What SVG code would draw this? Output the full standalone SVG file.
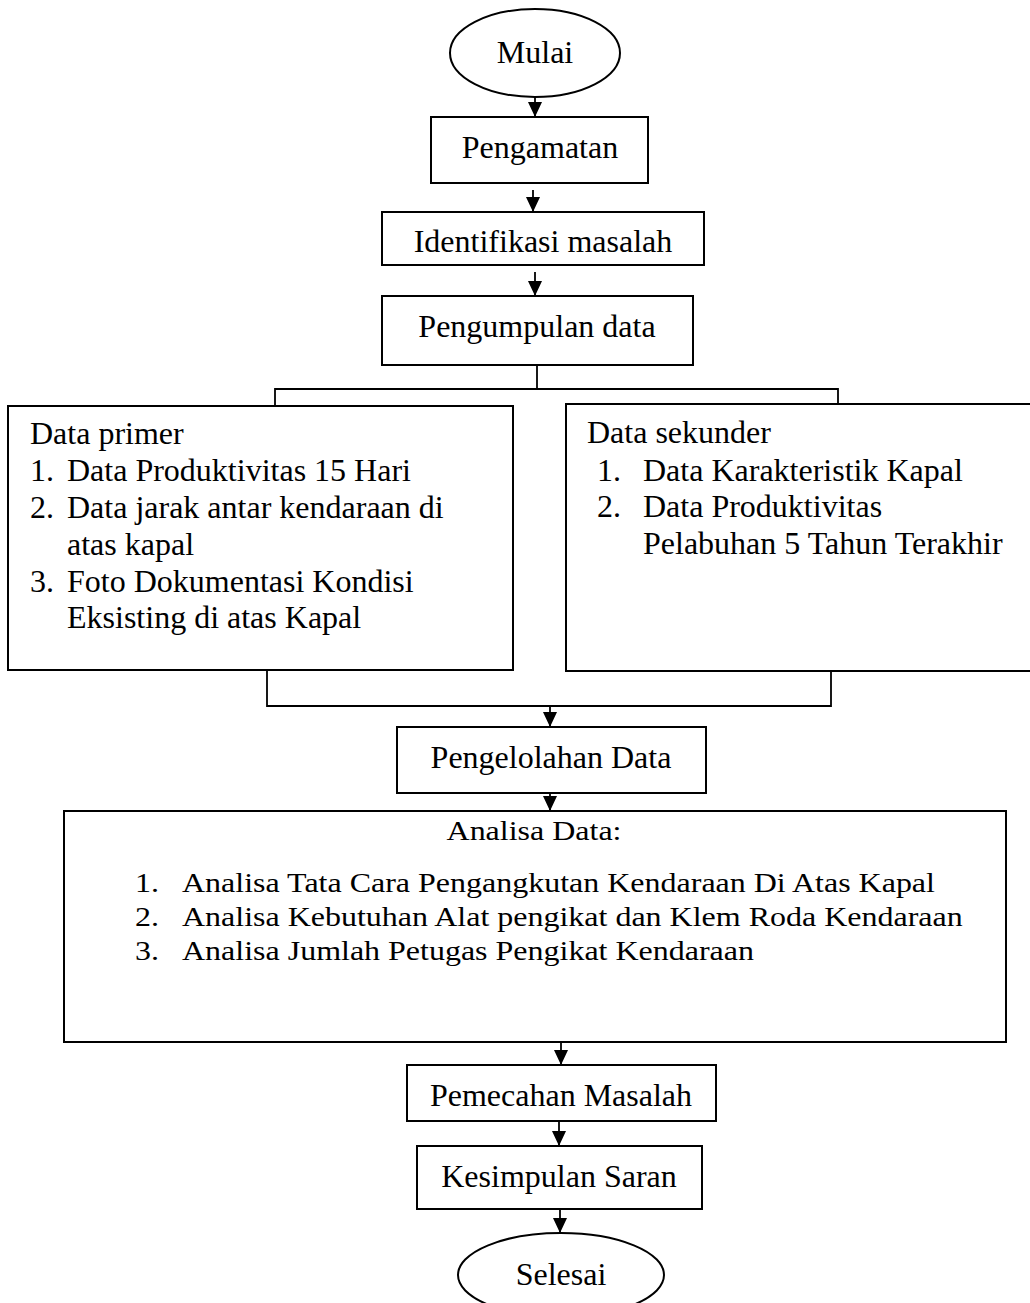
<svg xmlns="http://www.w3.org/2000/svg" width="1030" height="1303" viewBox="0 0 1030 1303">
<style>
.box{fill:#fff;stroke:#000;stroke-width:2}
.ln{fill:none;stroke:#000;stroke-width:1.8}
.arr{fill:none;stroke:#000;stroke-width:1.8;marker-end:url(#ah)}
text{font-family:"Liberation Serif","Times New Roman",serif;font-size:32px;fill:#000}
.c{text-anchor:middle}
</style>
<defs>
<marker id="ah" markerUnits="userSpaceOnUse" markerWidth="16" markerHeight="16" viewBox="0 0 16 16" refX="15" refY="8" orient="auto">
<path d="M0,1 L15,8 L0,15 Z" fill="#000"/>
</marker>
</defs>
<rect width="1030" height="1303" fill="#fff"/>
<g id="connectors">
<line class="arr" x1="535" y1="97" x2="535" y2="117"/>
<line class="arr" x1="533" y1="190" x2="533" y2="212"/>
<line class="arr" x1="535" y1="272" x2="535" y2="296"/>
<polyline class="ln" points="537,365 537,389"/>
<polyline class="ln" points="275,406 275,389 838,389 838,404"/>
<polyline class="ln" points="267,670 267,706 831,706 831,671"/>
<line class="arr" x1="550" y1="706" x2="550" y2="727"/>
<line class="arr" x1="550" y1="793" x2="550" y2="811"/>
<line class="arr" x1="561" y1="1042" x2="561" y2="1065"/>
<line class="arr" x1="559" y1="1121" x2="559" y2="1146"/>
<line class="arr" x1="560" y1="1209" x2="560" y2="1233"/>
</g>
<g id="mulai">
<ellipse class="box" cx="535" cy="53" rx="85" ry="44"/>
<text class="c" x="535" y="63">Mulai</text>
</g>
<g id="pengamatan">
<rect class="box" x="431" y="117" width="217" height="66"/>
<text class="c" x="540" y="158">Pengamatan</text>
</g>
<g id="identifikasi">
<rect class="box" x="382" y="212" width="322" height="53"/>
<text class="c" x="543" y="252">Identifikasi masalah</text>
</g>
<g id="pengumpulan">
<rect class="box" x="382" y="296" width="311" height="69"/>
<text class="c" x="537" y="337">Pengumpulan data</text>
</g>
<g id="data-primer">
<rect class="box" x="8" y="406" width="505" height="264"/>
<text x="30" y="444">Data primer</text>
<text x="30" y="481">1.</text><text x="67" y="481">Data Produktivitas 15 Hari</text>
<text x="30" y="518">2.</text><text x="67" y="518">Data jarak antar kendaraan di</text>
<text x="67" y="555">atas kapal</text>
<text x="30" y="592">3.</text><text x="67" y="592">Foto Dokumentasi Kondisi</text>
<text x="67" y="628">Eksisting di atas Kapal</text>
</g>
<g id="data-sekunder">
<rect class="box" x="566" y="404" width="480" height="267"/>
<text x="587" y="443">Data sekunder</text>
<text x="597" y="481">1.</text><text x="643" y="481">Data Karakteristik Kapal</text>
<text x="597" y="517">2.</text><text x="643" y="517">Data Produktivitas</text>
<text x="643" y="554">Pelabuhan 5 Tahun Terakhir</text>
</g>
<g id="pengelolahan">
<rect class="box" x="397" y="727" width="309" height="66"/>
<text class="c" x="551" y="768">Pengelolahan Data</text>
</g>
<g id="analisa">
<rect class="box" x="64" y="811" width="942" height="231"/>
<text class="c" transform="translate(534 840) scale(1 0.86)">Analisa Data:</text>
<text transform="translate(135 892) scale(1 0.86)">1.</text><text transform="translate(182 892) scale(1 0.86)">Analisa Tata Cara Pengangkutan Kendaraan Di Atas Kapal</text>
<text transform="translate(135 926) scale(1 0.86)">2.</text><text transform="translate(182 926) scale(1 0.86)">Analisa Kebutuhan Alat pengikat dan Klem Roda Kendaraan</text>
<text transform="translate(135 960) scale(1 0.86)">3.</text><text transform="translate(182 960) scale(1 0.86)">Analisa Jumlah Petugas Pengikat Kendaraan</text>
</g>
<g id="pemecahan">
<rect class="box" x="407" y="1065" width="309" height="56"/>
<text class="c" x="561" y="1106">Pemecahan Masalah</text>
</g>
<g id="kesimpulan">
<rect class="box" x="417" y="1146" width="285" height="63"/>
<text class="c" x="559" y="1187">Kesimpulan Saran</text>
</g>
<g id="selesai">
<ellipse class="box" cx="561" cy="1275" rx="103" ry="42"/>
<text class="c" x="561" y="1285">Selesai</text>
</g>
</svg>
